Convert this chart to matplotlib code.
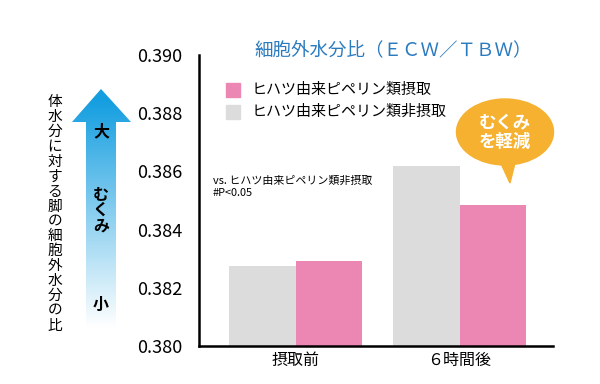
import numpy as np
import matplotlib
matplotlib.use('Agg')
import matplotlib.pyplot as plt
from matplotlib.patches import Polygon, Ellipse, Rectangle

plt.rcParams['font.family'] = ['Noto Sans CJK JP', 'DejaVu Sans']

# データ
groups = ['摂取前', '６時間後']
non_intake = [0.38275, 0.3862]   # ヒハツ由来ピペリン類非摂取
intake = [0.38293, 0.38485]      # ヒハツ由来ピペリン類摂取
yticks = [0.380, 0.382, 0.384, 0.386, 0.388, 0.390]

pink = '#ec87b4'
gray = '#dcdcdc'

fig = plt.figure(figsize=(6, 3.84), dpi=100)
ax = fig.add_axes([199/600, 38/384, 354/600, 291/384])

x = np.arange(len(groups))
w = 0.405
ax.bar(x - w/2, non_intake, width=w, color=gray)
ax.bar(x + w/2, intake, width=w, color=pink)

ax.set_xlim(-0.59, 1.57)
ax.set_ylim(0.380, 0.390)
ax.set_yticks(yticks)
ax.set_yticklabels(['%.3f' % v for v in yticks], fontsize=13)
ax.set_xticks(x)
ax.set_xticklabels(groups, fontsize=11.5)
ax.tick_params(axis='both', length=0, pad=12)
ax.tick_params(axis='x', pad=4)
for s in ['top', 'right']:
    ax.spines[s].set_visible(False)
for s in ['left', 'bottom']:
    ax.spines[s].set_linewidth(1.8)
ax.set_facecolor('none')

# 装飾用オーバーレイ(ピクセル座標)
ov = fig.add_axes([0, 0, 1, 1], zorder=5)
ov.set_xlim(0, 600)
ov.set_ylim(384, 0)
ov.axis('off')
ov.patch.set_alpha(0)

ov.text(393, 50, '細胞外水分比（ＥＣＷ／ＴＢＷ）', color='#2b7bbf',
        fontsize=13.3, ha='center', va='center')

# 凡例
ov.add_patch(Rectangle((226, 83), 14, 14, color=pink))
ov.add_patch(Rectangle((226, 105), 14, 14, color=gray))
ov.text(252, 90, 'ヒハツ由来ピペリン類摂取', fontsize=10.8, va='center')
ov.text(252, 112, 'ヒハツ由来ピペリン類非摂取', fontsize=10.8, va='center')

ov.text(213, 181, 'vs. ヒハツ由来ピペリン類非摂取', fontsize=7.9, va='center')
ov.text(213, 193, '#P<0.05', fontsize=7.9, va='center')

# 吹き出し
orange = '#f5b12f'
ov.add_patch(Polygon([[497, 155], [517, 155], [510, 183]], color=orange))
ov.add_patch(Ellipse((505, 132), 97, 66, color=orange))
ov.text(505, 132, 'むくみ\nを軽減', color='white', fontsize=12.5,
        ha='center', va='center', linespacing=1.1, fontweight='bold')

# グラデーション矢印
arrow = Polygon([[72, 122], [101, 89], [131, 122], [116, 122],
                 [116, 332], [86, 332], [86, 122]], closed=True,
                facecolor='none', edgecolor='none')
ov.add_patch(arrow)
grad = np.linspace(0, 1, 256).reshape(-1, 1)
top = np.array([0.08, 0.62, 0.88])
bot = np.array([1.0, 1.0, 1.0])
t = np.clip((grad - 0.05) / 0.92, 0, 1)
img = top * (1 - t[..., None]) + bot * t[..., None]
im = ov.imshow(img, extent=[70, 133, 335, 88], aspect='auto',
               interpolation='bilinear', zorder=1)
im.set_clip_path(arrow)

ov.text(101, 131, '大', fontsize=11.5, ha='center', va='center', fontweight='bold', zorder=3)
ov.text(101, 210, 'む\nく\nみ', fontsize=11.5, ha='center', va='center',
        fontweight='bold', linespacing=1.0, zorder=3)
ov.text(101, 305, '小', fontsize=11.5, ha='center', va='center', fontweight='bold', zorder=3)

label = '体水分に対する脚の細胞外水分の比'
ov.text(55, 214, '\n'.join(label), fontsize=10.6, ha='center', va='center',
        linespacing=1.08)

fig.savefig('out.png', dpi=100)
